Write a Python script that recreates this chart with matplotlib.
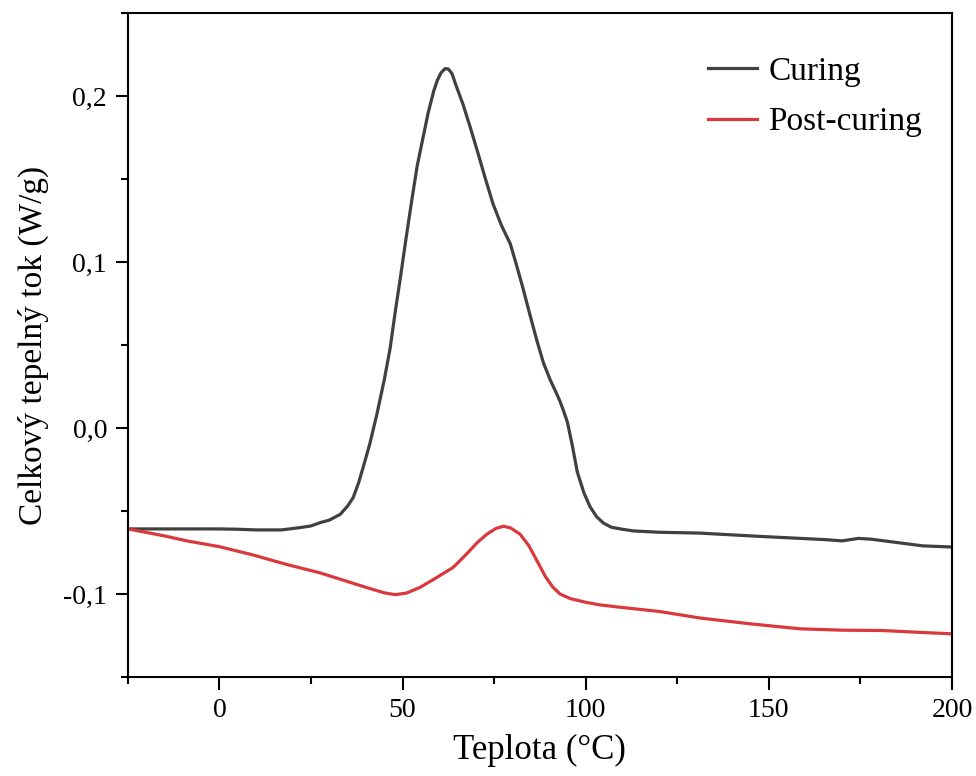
import matplotlib
matplotlib.use("Agg")
import matplotlib.pyplot as plt
from matplotlib.ticker import MultipleLocator, FuncFormatter

curing_x = [-25, -10, 0, 5, 10, 17, 22, 25, 27.5, 30, 33, 35, 36.5, 38, 39.2, 41, 43, 45,
            46.6, 48, 49.5, 51, 52.5, 54, 55.5, 57, 58.5, 59.5, 60.5, 61.6, 62.5, 63.5, 64.5,
            66.5, 68.5, 70.4, 72.5, 74.7, 77, 79.4, 81, 82.9, 84.8, 86.7, 88.5, 90.3, 92, 93,
            94, 95, 96.3, 97.7, 99.5, 101.2, 103, 104.8, 107, 110, 113, 120, 131, 145, 156.7,
            165, 170, 174.5, 178, 185, 192, 200]
curing_y = [-0.0608, -0.0608, -0.0608, -0.0610, -0.0614, -0.0614, -0.0600, -0.0590, -0.0570,
            -0.0555, -0.0520, -0.0470, -0.0420, -0.0330, -0.0240, -0.0100, 0.0084, 0.0290,
            0.048, 0.070, 0.092, 0.115, 0.137, 0.158, 0.174, 0.190, 0.203, 0.2095, 0.2140,
            0.2165, 0.2163, 0.2135, 0.207, 0.195, 0.181, 0.167, 0.151, 0.135, 0.122, 0.111,
            0.099, 0.084, 0.068, 0.0524, 0.039, 0.029, 0.021, 0.016, 0.010, 0.0035, -0.010,
            -0.0265, -0.039, -0.0475, -0.0535, -0.0572, -0.0598, -0.0610, -0.0620, -0.0628,
            -0.0633, -0.065, -0.0663, -0.0672, -0.068, -0.0665, -0.067, -0.069, -0.071, -0.0717]

post_x = [-25, -15, -8.9, 0, 9.2, 18, 27.5, 35, 40, 45, 48, 51, 54.8, 59, 63.8, 67, 70.4,
          73, 75.5, 77.5, 79.5, 82.1, 84.5, 86.7, 89, 91, 93, 95.8, 100, 104, 109.4, 120,
          131.3, 145, 158.6, 170, 181, 190, 200]
post_y = [-0.0608, -0.0650, -0.068, -0.0715, -0.0765, -0.0820, -0.0873, -0.0925, -0.0960,
          -0.0993, -0.1004, -0.0995, -0.0960, -0.0905, -0.0840, -0.0770, -0.0690, -0.0640,
          -0.0605, -0.0592, -0.0602, -0.0640, -0.0710, -0.0800, -0.0895, -0.0958, -0.1000,
          -0.1028, -0.1050, -0.1066, -0.1080, -0.1105, -0.1145, -0.118, -0.121, -0.1218,
          -0.1220, -0.1230, -0.1240]

labels = ["Curing", "Post-curing"]
colors = ["#404040", "#d9393c"]

plt.rcParams['font.family'] = ['Liberation Serif', 'DejaVu Serif']

fig = plt.figure(figsize=(9.76, 7.76), dpi=100)
ax = fig.add_axes([0.131, 0.1276, 0.8444, 0.8556])

ax.plot(curing_x, curing_y, color=colors[0], lw=2.3, label=labels[0], solid_joinstyle='round')
ax.plot(post_x, post_y, color=colors[1], lw=2.3, label=labels[1], solid_joinstyle='round')

ax.set_xlim(-25, 200)
ax.set_ylim(-0.15, 0.25)

ax.xaxis.set_major_locator(MultipleLocator(50))
ax.xaxis.set_minor_locator(MultipleLocator(25))
ax.yaxis.set_major_locator(MultipleLocator(0.1))
ax.yaxis.set_minor_locator(MultipleLocator(0.05))

ax.yaxis.set_major_formatter(FuncFormatter(lambda v, p: f"{v:.1f}".replace('.', ',').replace('-0,0', '0,0')))
ax.xaxis.set_major_formatter(FuncFormatter(lambda v, p: f"{v:.0f}"))

ax.tick_params(which='both', direction='out', top=False, right=False, width=1.5, labelsize=20, pad=6)
ax.tick_params(which='major', length=9)
ax.tick_params(which='minor', length=5)
for s in ax.spines.values():
    s.set_linewidth(1.5)

ax.set_xlabel("Teplota (°C)", fontsize=25, labelpad=8)
ax.set_ylabel("Celkový tepelný tok (W/g)", fontsize=24, labelpad=10)

ax.legend(loc='upper right', bbox_to_anchor=(1.0, 0.98), frameon=False, fontsize=24,
          handlelength=1.45, handletextpad=0.35, labelspacing=0.6)

fig.savefig("out.png", dpi=100)
